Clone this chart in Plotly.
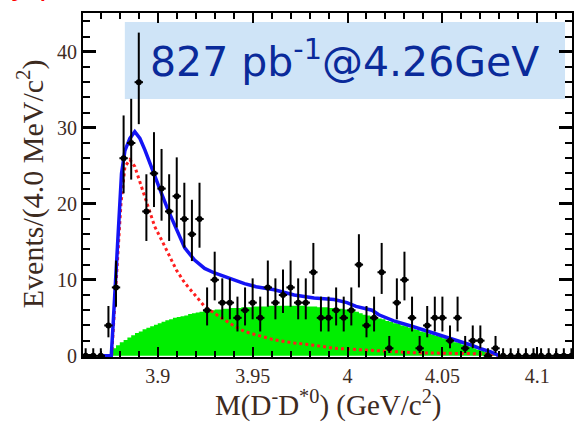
import numpy as np
import plotly.graph_objects as go

# ---------------- data ----------------
BIN_START = 3.862      # centre of first 4 MeV bin (GeV)
BIN_WIDTH = 0.004
counts = [0, 0, 0, 4, 9, 26, 28, 36, 19, 24,
          22, 19, 21, 18, 16, 18, 6, 10, 7, 7,
          5, 6, 7, 5, 9, 7, 8, 9, 7, 7,
          11, 5, 5, 6, 5, 6, 12, 4, 5, 11,
          1, 7, 10, 5, 1, 4, 5, 5, 2, 5,
          1, 2, 2, 0, 1, 0, 0, 0, 0, 0,
          0, 0, 0, 0, 0]

# total fit (blue)
blue_x = [3.8700, 3.8755, 3.8766, 3.8774, 3.8792, 3.8809, 3.8827, 3.8853, 3.8879,
          3.8906, 3.8932, 3.8958, 3.8984, 3.9019, 3.9054, 3.9098, 3.9142, 3.9194,
          3.9247, 3.9299, 3.9352, 3.9404, 3.9457, 3.9518, 3.9614, 3.9719, 3.9824,
          3.9929, 3.9997, 4.0045, 4.0129, 4.0165, 4.0244, 4.0339, 4.0428, 4.0517,
          4.0585, 4.0654, 4.0706, 4.0759, 4.0801]
blue_y = [0.0, 0.0, 4.7, 8.3, 17.0, 24.0, 27.0, 28.6, 29.5,
          28.6, 27.1, 25.3, 23.8, 21.4, 19.2, 16.8, 14.2, 12.6,
          11.5, 10.9, 10.4, 10.0, 9.5, 9.1, 8.7, 8.0, 7.6,
          7.4, 7.0, 6.5, 6.0, 5.4, 4.6, 3.9, 3.2, 2.5,
          2.0, 1.4, 0.9, 0.5, 0.0]

# signal (red dotted)
red_x = [3.8757, 3.8766, 3.8783, 3.8806, 3.8827, 3.8853, 3.8879, 3.8914, 3.8949,
         3.8984, 3.9019, 3.9063, 3.9098, 3.9142, 3.9194, 3.9247, 3.9299, 3.9352,
         3.9404, 3.9457, 3.9518, 3.9614, 3.9719, 3.9824, 3.9929, 4.0139, 4.0360,
         4.0638, 4.0769, 4.0795]
red_y = [0.0, 4.0, 10.0, 20.0, 24.9, 25.8, 24.9, 22.3, 19.6,
         17.0, 15.3, 13.1, 11.3, 9.6, 8.0, 6.5, 5.6, 4.7,
         3.9, 3.2, 2.8, 2.1, 1.7, 1.4, 1.0, 0.7, 0.4,
         0.3, 0.2, 0.0]

# background (green histogram, 2 MeV steps)
GREEN_START = 3.876
GREEN_STEP = 0.002
green_h = [1.0, 1.4, 1.8, 2.1, 2.4, 2.7, 3.0, 3.2, 3.5, 3.7,
           3.9, 4.1, 4.3, 4.5, 4.7, 4.8, 5.0, 5.1, 5.2, 5.3,
           5.5, 5.6, 5.7, 5.8, 5.9, 5.9, 6.0, 6.1, 6.1, 6.2,
           6.2, 6.3, 6.3, 6.3, 6.4, 6.4, 6.4, 6.5, 6.5, 6.5,
           6.5, 6.6, 6.6, 6.6, 6.6, 6.6, 6.6, 6.6, 6.6, 6.6,
           6.6, 6.5, 6.5, 6.5, 6.4, 6.4, 6.4, 6.3, 6.3, 6.2,
           6.2, 6.1, 6.0, 5.9, 5.8, 5.6, 5.4, 5.3, 5.2, 5.0,
           4.9, 4.8, 4.6, 4.5, 4.3, 4.2, 4.0, 3.9, 3.7, 3.5,
           3.4, 3.2, 3.1, 2.9, 2.8, 2.6, 2.5, 2.3, 2.2, 2.0,
           1.8, 1.7, 1.5, 1.3, 1.2, 1.0, 0.8, 0.7, 0.5, 0.3,
           0.1]

x_tickvals = [3.9, 3.95, 4.0, 4.05, 4.1]
x_ticktext = ["3.9", "3.95", "4", "4.05", "4.1"]
y_tickvals = [0, 10, 20, 30, 40]
y_ticktext = ["0", "10", "20", "30", "40"]

label_text = "827 pb<sup>-1</sup>@4.26GeV"
x_title = "M(D<sup>-</sup>D<sup>*0</sup>) (GeV/c<sup>2</sup>)"
y_title = "Events/(4.0 MeV/c<sup>2</sup>)"
top_text = "J/ψ,  π<sup>+</sup>D<sup>-</sup>  (D<sup>*0</sup>π<sup>-</sup>)"  # cropped at the top edge

# ---------------- derived ----------------
n = np.array(counts, dtype=float)
bin_x = BIN_START + BIN_WIDTH * np.arange(len(counts))
err_up = 0.5 + np.sqrt(n + 0.25)
err_dn = np.sqrt(n + 0.25) - 0.5

g_x = GREEN_START + GREEN_STEP * np.arange(len(green_h) + 1)
g_y = list(green_h) + [0.0]

TXT = "#3d2b1f"
SERIF = "Liberation Serif, Times New Roman, serif"

fig = go.Figure()
fig.add_trace(go.Scatter(x=g_x, y=g_y, mode="lines", line=dict(width=0, shape="hv"),
                         fill="tozeroy", fillcolor="rgb(0,238,0)", hoverinfo="skip"))
fig.add_trace(go.Scatter(x=red_x, y=red_y, mode="lines",
                         line=dict(color="rgb(255,30,30)", width=3, dash="dot")))
fig.add_trace(go.Scatter(x=blue_x, y=blue_y, mode="lines",
                         line=dict(color="rgb(20,20,245)", width=3.5)))
fig.add_trace(go.Scatter(x=bin_x, y=n, mode="markers",
                         marker=dict(color="black", size=6, symbol="circle"),
                         error_y=dict(type="data", symmetric=False, array=err_up,
                                      arrayminus=err_dn, color="black", thickness=2, width=0),
                         error_x=dict(type="constant", value=0.0022, color="black",
                                      thickness=2, width=0)))

# pixel -> paper helpers
L, R, T, B = 83, 574, 13, 357
def px(xp):
    return (xp - L) / (R - L)
def py(yp):
    return (B - yp) / (B - T)

fig.add_shape(type="rect", xref="paper", yref="paper",
              x0=px(125), x1=px(567), y0=py(99), y1=py(22),
              fillcolor="#cfe4f7", line=dict(width=0), layer="below")
fig.add_annotation(xref="paper", yref="paper", x=px(346), y=py(59),
                   text=label_text, showarrow=False,
                   font=dict(family="DejaVu Sans", size=41, color="#0a2a9a"),
                   xanchor="center", yanchor="middle")
fig.add_annotation(xref="paper", yref="paper", x=px(329), y=py(403),
                   text=x_title, showarrow=False,
                   font=dict(family=SERIF, size=29, color=TXT),
                   xanchor="center", yanchor="middle")
fig.add_annotation(xref="paper", yref="paper", x=px(30), y=py(184),
                   text=y_title, showarrow=False, textangle=-90,
                   font=dict(family=SERIF, size=30, color=TXT),
                   xanchor="center", yanchor="middle")
fig.add_annotation(xref="paper", yref="paper", x=px(10), y=py(4),
                   text=top_text, showarrow=False,
                   font=dict(family="DejaVu Sans", size=30, color="red"),
                   xanchor="left", yanchor="bottom")

axis_common = dict(showline=True, linecolor="black", linewidth=2, mirror="allticks",
                   ticks="inside", tickcolor="black", showgrid=False, zeroline=False,
                   tickfont=dict(family=SERIF, size=20, color=TXT))

fig.update_xaxes(range=[3.8606, 4.1183], tickvals=x_tickvals, ticktext=x_ticktext,
                 ticklen=10, tickwidth=2,
                 minor=dict(dtick=0.01, tick0=3.9, ticklen=6, tickwidth=1.5,
                            ticks="inside", tickcolor="black", showgrid=False),
                 **axis_common)
fig.update_yaxes(range=[-0.15, 45.1], tickvals=y_tickvals, ticktext=y_ticktext,
                 ticklen=13, tickwidth=2.5,
                 minor=dict(dtick=2, tick0=0, ticklen=7, tickwidth=2,
                            ticks="inside", tickcolor="black", showgrid=False),
                 **axis_common)

fig.update_layout(width=575, height=422, margin=dict(l=L, r=575 - R, t=T, b=422 - B),
                  paper_bgcolor="white", plot_bgcolor="white", showlegend=False)

fig.write_html("out.html")
